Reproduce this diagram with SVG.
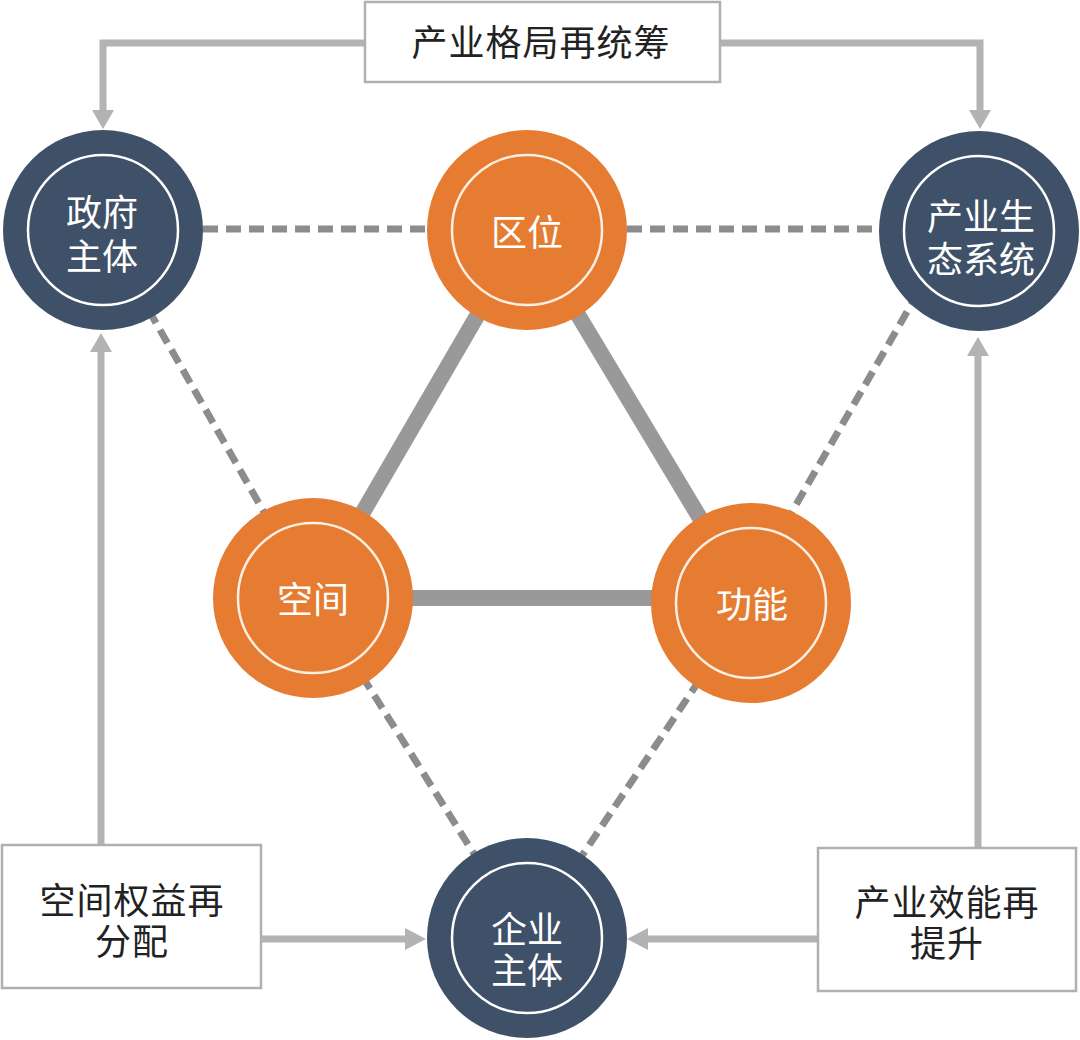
<svg xmlns="http://www.w3.org/2000/svg" width="1080" height="1040" viewBox="0 0 1080 1040">
<style>
.arrow{fill:none;stroke:#b3b3b3;stroke-width:7}
.head{fill:#b3b3b3}
.dash{fill:none;stroke:#8c8c8c;stroke-width:7;stroke-dasharray:15 8}
.thick{fill:none;stroke:#999999;stroke-width:16}
.navy{fill:#3f5169}
.orange{fill:#e67c31}
.ring{fill:none;stroke:#ffffff;stroke-width:2.5}
.ring2{fill:none;stroke:#fdeee2;stroke-width:2.5}
.ct{font-family:"Noto Sans CJK SC","Noto Sans",sans-serif;font-size:36px;fill:#ffffff;text-anchor:middle}
.bt{font-family:"Noto Sans CJK SC","Noto Sans",sans-serif;font-size:36px;fill:#222222;text-anchor:middle;letter-spacing:1px}
.box{fill:#ffffff;stroke:#b0b0b0;stroke-width:2.5}
</style>
<rect width="1080" height="1040" fill="#ffffff"/>
<g id="connectors">
<line class="dash" x1="203" y1="229" x2="427" y2="229"/>
<line class="dash" x1="627" y1="229" x2="879" y2="229"/>
<line class="dash" x1="103" y1="230" x2="313" y2="598"/>
<line class="dash" x1="313" y1="598" x2="527" y2="938"/>
<line class="dash" x1="751" y1="603" x2="527" y2="938"/>
<line class="dash" x1="930" y1="272" x2="770" y2="550"/>
<line class="thick" x1="527" y1="230" x2="313" y2="598"/>
<line class="thick" x1="527" y1="230" x2="751" y2="603"/>
<line class="thick" x1="313" y1="598" x2="751" y2="598"/>
<polyline class="arrow" points="365,43 103,43 103,112"/>
<polygon class="head" points="92,110 114,110 103,129"/>
<polyline class="arrow" points="720,43 980,43 980,112"/>
<polygon class="head" points="969,110 991,110 980,129"/>
<line class="arrow" x1="101" y1="845" x2="101" y2="350"/>
<polygon class="head" points="90,352 112,352 101,333"/>
<line class="arrow" x1="978" y1="848" x2="978" y2="354"/>
<polygon class="head" points="967,356 989,356 978,337"/>
<line class="arrow" x1="261" y1="939" x2="407" y2="939"/>
<polygon class="head" points="405,928 405,950 426,939"/>
<line class="arrow" x1="817" y1="939" x2="646" y2="939"/>
<polygon class="head" points="648,928 648,950 627,939"/>
</g>
<g id="box-top">
<rect class="box" x="365" y="2" width="355" height="80"/>
<text class="bt" x="541" y="56">产业格局再统筹</text>
</g>
<g id="box-left">
<rect class="box" x="2" y="845" width="259" height="143"/>
<text class="bt" x="132" y="914">空间权益再<tspan x="132" dy="41">分配</tspan></text>
</g>
<g id="box-right">
<rect class="box" x="818" y="848" width="258" height="143"/>
<text class="bt" x="947" y="916">产业效能再<tspan x="947" dy="41">提升</tspan></text>
</g>
<g id="node-gov">
<circle class="navy" cx="103" cy="230" r="100"/>
<circle class="ring" cx="103" cy="230" r="75"/>
<text class="ct" x="102" y="226">政府<tspan x="102" dy="44">主体</tspan></text>
</g>
<g id="node-eco">
<circle class="navy" cx="979" cy="231" r="100"/>
<circle class="ring" cx="979" cy="231" r="75"/>
<text class="ct" x="981" y="230">产业生<tspan x="981" dy="43">态系统</tspan></text>
</g>
<g id="node-location">
<circle class="orange" cx="527" cy="230" r="100"/>
<circle class="ring2" cx="527" cy="230" r="75"/>
<text class="ct" x="527" y="246">区位</text>
</g>
<g id="node-space">
<circle class="orange" cx="313" cy="598" r="100"/>
<circle class="ring2" cx="313" cy="598" r="75"/>
<text class="ct" x="313" y="613">空间</text>
</g>
<g id="node-function">
<circle class="orange" cx="751" cy="603" r="100"/>
<circle class="ring2" cx="751" cy="603" r="75"/>
<text class="ct" x="752" y="618">功能</text>
</g>
<g id="node-enterprise">
<circle class="navy" cx="527" cy="938" r="100"/>
<circle class="ring" cx="527" cy="938" r="75"/>
<text class="ct" x="527" y="943">企业<tspan x="527" dy="41">主体</tspan></text>
</g>
</svg>
